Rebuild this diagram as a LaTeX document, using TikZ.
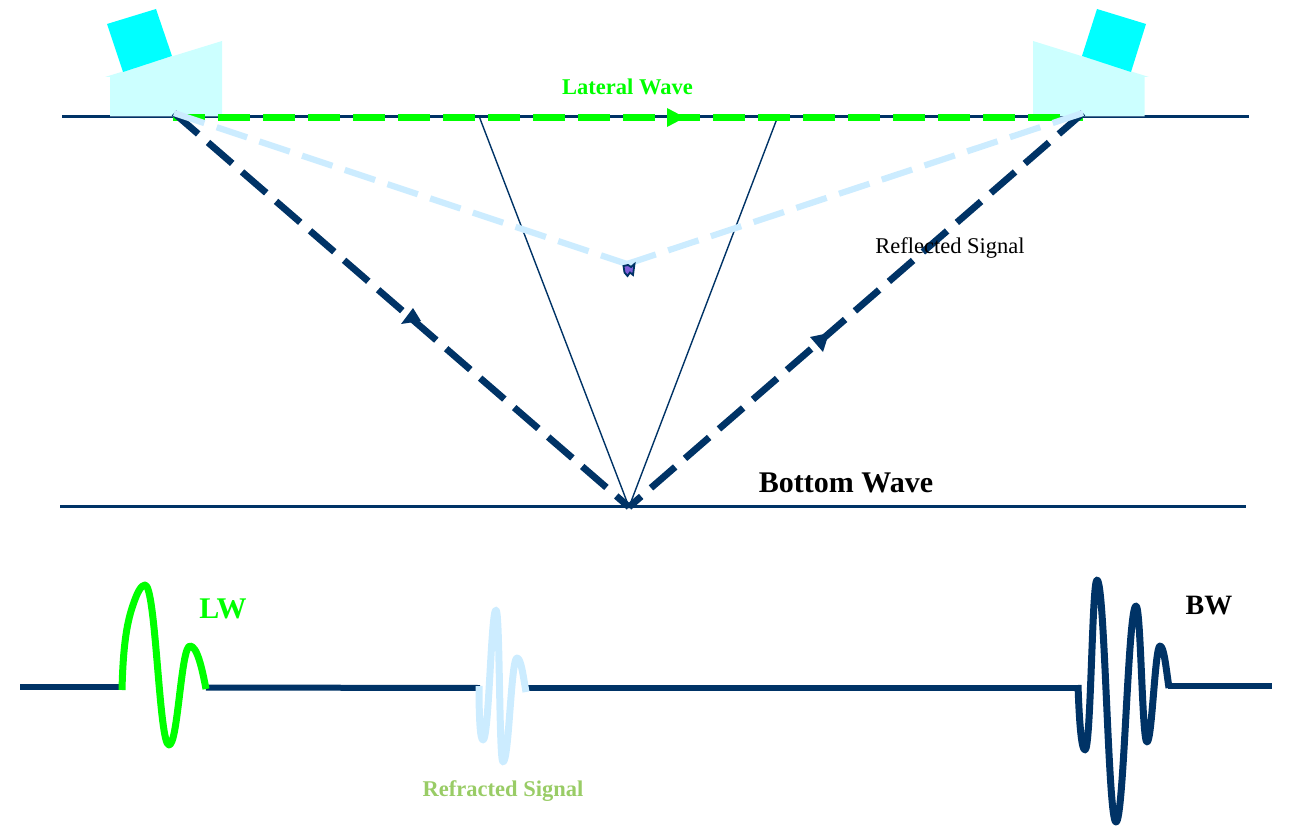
\documentclass[tikz,border=0pt]{standalone}
\usepackage{fontspec}
\setmainfont{Liberation Serif}
\definecolor{navy}{HTML}{003366}
\definecolor{lightblue}{HTML}{CCECFF}
\definecolor{wedgecol}{HTML}{CCFFFF}
\definecolor{sqcol}{HTML}{00FFFF}
\definecolor{lime}{HTML}{00FF00}
\definecolor{refr}{HTML}{99CC66}
\definecolor{defectcol}{HTML}{7F5FD8}
\tikzset{
  surface/.style={navy,line width=3pt},
  wedgeshape/.style={fill=wedgecol,draw=none},
  crystal/.style={fill=sqcol,draw=none},
  thinray/.style={navy,line width=1.4pt},
  bwray/.style={navy,line width=6.8pt,dash pattern=on 32pt off 13pt},
  lwray/.style={lime,line width=7pt,dash pattern=on 32pt off 13pt},
  tipray/.style={lightblue,line width=6.2pt,dash pattern=on 32pt off 13pt},
  pulse/.style={line width=7pt,line cap=butt,line join=round},
  baseline trace/.style={navy,line width=6pt},
  headnavy/.style={fill=navy,draw=none},
  lbl/.style={inner sep=0pt,font=\fontsize{#1}{#1}\selectfont},
  blbl/.style={inner sep=0pt,font=\fontsize{#1}{#1}\selectfont\bfseries}
}
\begin{document}
\begin{tikzpicture}[x=1pt,y=-1pt]
\useasboundingbox (0,0) rectangle (1291,837);
% named points
\coordinate (topL) at (62,116.5);
\coordinate (topR) at (1249,116.5);
\coordinate (botL) at (60,506.5);
\coordinate (botR) at (1246,506.5);
\coordinate (tx) at (174,113);
\coordinate (rx) at (1083,113);
\coordinate (tx2) at (173,118);
\coordinate (rx2) at (1083,118);
\coordinate (refl) at (629,507);
\coordinate (defect) at (627,264);
\coordinate (th1) at (479,116);
\coordinate (th2) at (778,116);
% surfaces
\draw[surface] (topL) -- (topR);
\draw[surface] (botL) -- (botR);
% probes
\fill[wedgeshape] (110,116.5) -- (222,116.5) -- (222,41) -- (105,77) -- (110,77) -- cycle;
\fill[crystal] (107,24) -- (156,9) -- (172,56) -- (123,72) -- cycle;
\fill[wedgeshape] (1033,116.5) -- (1144.5,116.5) -- (1144.5,77) -- (1149,77) -- (1033,41) -- cycle;
\fill[crystal] (1097,9) -- (1146,24) -- (1131,72) -- (1082,56) -- cycle;
\draw[navy!70,line width=1.2pt] (110,116.5) -- (222,116.5) (1033,116.5) -- (1144,116.5);
% rays
\draw[thinray] (th1) -- (refl) -- (th2);
\draw[lwray] (tx2) -- (rx2);
\draw[bwray] (tx) -- (refl);
\draw[bwray] (rx) -- (refl);
\draw[tipray] (tx) -- (defect);
\draw[tipray] (rx) -- (defect);
% arrowheads
\fill[lime] (667,108) -- (685,117.5) -- (667,127) -- cycle;
\fill[headnavy] (413,308) -- (401,324) -- (421,321) -- cycle;
\fill[headnavy] (810,337) -- (829,333) -- (823,352) -- cycle;
% defect
\filldraw[fill=defectcol,draw=navy,line width=1.8pt] (623.5,266) -- (628,265) -- (631,267) -- (634.5,264) -- (633,275) -- (630,272.5) -- (627.5,276) -- (624.5,272.5) -- cycle;
% trace
\draw[baseline trace] (20,687) -- (122,687);
\draw[baseline trace] (206,687.5) -- (480,688);
\draw[baseline trace] (525,687.5) -- (1080,687.5);
\draw[baseline trace] (1168,686) -- (1272,686);
\draw[pulse,navy] (1078,685) .. controls (1079,715) and (1081,750) .. (1085,750)
  .. controls (1091,750) and (1092,580) .. (1097,580)
  .. controls (1105,580) and (1108,822) .. (1116,822)
  .. controls (1124,822) and (1128,606) .. (1136,606)
  .. controls (1141,606) and (1142,742) .. (1147,742)
  .. controls (1152,742) and (1155,646) .. (1160,646)
  .. controls (1164,646) and (1166,668) .. (1169,688);
\draw[pulse,lime] (122,690) .. controls (123,650) and (126,625) .. (133,605)
  .. controls (137,593) and (141,585) .. (145,585)
  .. controls (156,585) and (159,745) .. (169,745)
  .. controls (178,745) and (181,646) .. (190,646)
  .. controls (197,646) and (202,668) .. (206,689);
\draw[pulse,lightblue] (479,686) .. controls (479,715) and (480,740) .. (483,740)
  .. controls (489,740) and (491,610) .. (496,610)
  .. controls (500,610) and (499,762) .. (503,762)
  .. controls (509,762) and (511,658) .. (517,658)
  .. controls (521,658) and (523,675) .. (526,692);
% labels
\node[blbl=22.5,text=lime] (lateral) at (627.5,87) {Lateral Wave};
\node[lbl=22.5,text=black] (reflected) at (950,248) {Reflected Signal};
\node[blbl=30,text=black] (bottom) at (846,483) {Bottom Wave};
\node[blbl=30,text=lime] (lw) at (223,609) {LW};
\node[blbl=28,text=black] (bw) at (1209,606) {BW};
\node[blbl=22.5,text=refr] (refracted) at (503,791) {Refracted Signal};
\end{tikzpicture}
\end{document}
